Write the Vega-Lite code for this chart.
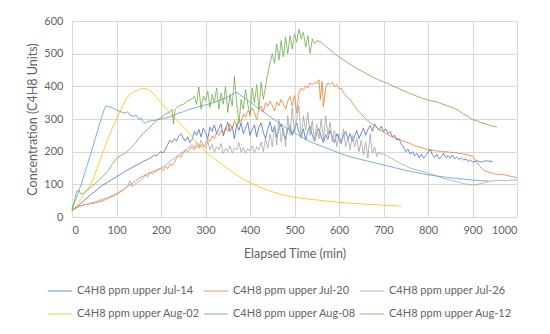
{
  "$schema": "https://vega.github.io/schema/vega-lite/v6.json",
  "autosize": "none",
  "width": 445,
  "height": 196,
  "padding": {"left": 72, "top": 21, "right": 33, "bottom": 117},
  "background": "white",
  "config": {
    "font": "Lato",
    "view": {"stroke": null},
    "axis": {"labelColor": "#636363", "titleColor": "#636363", "labelFontSize": 11, "titleFontSize": 12.5, "titleFontWeight": "normal", "gridColor": "#D9D9D9", "gridWidth": 1, "domain": false, "ticks": false},
    "legend": {"labelColor": "#636363", "labelFontSize": 11}
  },
  "data": {"values": [
{"s":"Jul-14","t":0,"v":20},{"s":"Jul-14","t":10,"v":30},{"s":"Jul-14","t":20,"v":42},{"s":"Jul-14","t":30,"v":54},{"s":"Jul-14","t":40,"v":66},{"s":"Jul-14","t":50,"v":77},{"s":"Jul-14","t":60,"v":88},{"s":"Jul-14","t":70,"v":98},{"s":"Jul-14","t":80,"v":106},{"s":"Jul-14","t":90,"v":115},{"s":"Jul-14","t":100,"v":123},{"s":"Jul-14","t":110,"v":131},{"s":"Jul-14","t":120,"v":140},{"s":"Jul-14","t":130,"v":148},{"s":"Jul-14","t":140,"v":155},{"s":"Jul-14","t":150,"v":162},{"s":"Jul-14","t":160,"v":170},{"s":"Jul-14","t":170,"v":176},{"s":"Jul-14","t":180,"v":184},{"s":"Jul-14","t":185,"v":190},{"s":"Jul-14","t":190,"v":186},{"s":"Jul-14","t":195,"v":195},{"s":"Jul-14","t":200,"v":200},{"s":"Jul-14","t":205,"v":196},{"s":"Jul-14","t":210,"v":208},{"s":"Jul-14","t":215,"v":222},{"s":"Jul-14","t":220,"v":235},{"s":"Jul-14","t":225,"v":228},{"s":"Jul-14","t":230,"v":240},{"s":"Jul-14","t":235,"v":232},{"s":"Jul-14","t":240,"v":248},{"s":"Jul-14","t":245,"v":255},{"s":"Jul-14","t":250,"v":242},{"s":"Jul-14","t":255,"v":232},{"s":"Jul-14","t":260,"v":245},{"s":"Jul-14","t":265,"v":228},{"s":"Jul-14","t":270,"v":238},{"s":"Jul-14","t":275,"v":262},{"s":"Jul-14","t":280,"v":250},{"s":"Jul-14","t":285,"v":268},{"s":"Jul-14","t":290,"v":245},{"s":"Jul-14","t":295,"v":272},{"s":"Jul-14","t":300,"v":258},{"s":"Jul-14","t":305,"v":240},{"s":"Jul-14","t":310,"v":275},{"s":"Jul-14","t":315,"v":262},{"s":"Jul-14","t":320,"v":282},{"s":"Jul-14","t":325,"v":255},{"s":"Jul-14","t":330,"v":270},{"s":"Jul-14","t":335,"v":285},{"s":"Jul-14","t":340,"v":248},{"s":"Jul-14","t":345,"v":268},{"s":"Jul-14","t":350,"v":290},{"s":"Jul-14","t":355,"v":262},{"s":"Jul-14","t":360,"v":278},{"s":"Jul-14","t":365,"v":240},{"s":"Jul-14","t":370,"v":285},{"s":"Jul-14","t":375,"v":265},{"s":"Jul-14","t":380,"v":288},{"s":"Jul-14","t":385,"v":255},{"s":"Jul-14","t":390,"v":272},{"s":"Jul-14","t":395,"v":290},{"s":"Jul-14","t":400,"v":250},{"s":"Jul-14","t":405,"v":268},{"s":"Jul-14","t":410,"v":282},{"s":"Jul-14","t":415,"v":245},{"s":"Jul-14","t":420,"v":275},{"s":"Jul-14","t":425,"v":288},{"s":"Jul-14","t":430,"v":258},{"s":"Jul-14","t":435,"v":240},{"s":"Jul-14","t":440,"v":270},{"s":"Jul-14","t":445,"v":292},{"s":"Jul-14","t":450,"v":260},{"s":"Jul-14","t":455,"v":278},{"s":"Jul-14","t":460,"v":245},{"s":"Jul-14","t":465,"v":270},{"s":"Jul-14","t":470,"v":285},{"s":"Jul-14","t":475,"v":255},{"s":"Jul-14","t":480,"v":240},{"s":"Jul-14","t":485,"v":268},{"s":"Jul-14","t":490,"v":280},{"s":"Jul-14","t":495,"v":250},{"s":"Jul-14","t":500,"v":272},{"s":"Jul-14","t":505,"v":288},{"s":"Jul-14","t":510,"v":258},{"s":"Jul-14","t":515,"v":245},{"s":"Jul-14","t":520,"v":270},{"s":"Jul-14","t":525,"v":235},{"s":"Jul-14","t":530,"v":262},{"s":"Jul-14","t":535,"v":278},{"s":"Jul-14","t":540,"v":250},{"s":"Jul-14","t":545,"v":232},{"s":"Jul-14","t":550,"v":258},{"s":"Jul-14","t":555,"v":270},{"s":"Jul-14","t":560,"v":245},{"s":"Jul-14","t":565,"v":228},{"s":"Jul-14","t":570,"v":252},{"s":"Jul-14","t":575,"v":238},{"s":"Jul-14","t":580,"v":265},{"s":"Jul-14","t":585,"v":245},{"s":"Jul-14","t":590,"v":228},{"s":"Jul-14","t":595,"v":255},{"s":"Jul-14","t":600,"v":240},{"s":"Jul-14","t":605,"v":225},{"s":"Jul-14","t":610,"v":250},{"s":"Jul-14","t":615,"v":262},{"s":"Jul-14","t":620,"v":238},{"s":"Jul-14","t":625,"v":255},{"s":"Jul-14","t":630,"v":232},{"s":"Jul-14","t":635,"v":248},{"s":"Jul-14","t":640,"v":265},{"s":"Jul-14","t":645,"v":240},{"s":"Jul-14","t":650,"v":258},{"s":"Jul-14","t":655,"v":272},{"s":"Jul-14","t":660,"v":250},{"s":"Jul-14","t":665,"v":268},{"s":"Jul-14","t":670,"v":280},{"s":"Jul-14","t":675,"v":262},{"s":"Jul-14","t":680,"v":285},{"s":"Jul-14","t":685,"v":275},{"s":"Jul-14","t":690,"v":265},{"s":"Jul-14","t":695,"v":278},{"s":"Jul-14","t":700,"v":262},{"s":"Jul-14","t":705,"v":270},{"s":"Jul-14","t":710,"v":255},{"s":"Jul-14","t":715,"v":262},{"s":"Jul-14","t":720,"v":245},{"s":"Jul-14","t":725,"v":250},{"s":"Jul-14","t":730,"v":235},{"s":"Jul-14","t":735,"v":240},{"s":"Jul-14","t":740,"v":222},{"s":"Jul-14","t":745,"v":215},{"s":"Jul-14","t":750,"v":200},{"s":"Jul-14","t":755,"v":208},{"s":"Jul-14","t":760,"v":192},{"s":"Jul-14","t":765,"v":200},{"s":"Jul-14","t":770,"v":188},{"s":"Jul-14","t":775,"v":195},{"s":"Jul-14","t":780,"v":182},{"s":"Jul-14","t":785,"v":192},{"s":"Jul-14","t":790,"v":180},{"s":"Jul-14","t":795,"v":188},{"s":"Jul-14","t":800,"v":198},{"s":"Jul-14","t":805,"v":208},{"s":"Jul-14","t":810,"v":190},{"s":"Jul-14","t":815,"v":182},{"s":"Jul-14","t":820,"v":192},{"s":"Jul-14","t":825,"v":178},{"s":"Jul-14","t":830,"v":185},{"s":"Jul-14","t":835,"v":195},{"s":"Jul-14","t":840,"v":182},{"s":"Jul-14","t":845,"v":188},{"s":"Jul-14","t":850,"v":180},{"s":"Jul-14","t":855,"v":190},{"s":"Jul-14","t":860,"v":178},{"s":"Jul-14","t":865,"v":184},{"s":"Jul-14","t":870,"v":176},{"s":"Jul-14","t":875,"v":182},{"s":"Jul-14","t":880,"v":174},{"s":"Jul-14","t":885,"v":178},{"s":"Jul-14","t":890,"v":170},{"s":"Jul-14","t":895,"v":175},{"s":"Jul-14","t":900,"v":168},{"s":"Jul-14","t":910,"v":172},{"s":"Jul-14","t":920,"v":168},{"s":"Jul-14","t":930,"v":172},{"s":"Jul-14","t":945,"v":170},
{"s":"Jul-20","t":0,"v":20},{"s":"Jul-20","t":10,"v":28},{"s":"Jul-20","t":20,"v":35},{"s":"Jul-20","t":30,"v":38},{"s":"Jul-20","t":40,"v":40},{"s":"Jul-20","t":50,"v":42},{"s":"Jul-20","t":60,"v":46},{"s":"Jul-20","t":70,"v":50},{"s":"Jul-20","t":80,"v":56},{"s":"Jul-20","t":90,"v":62},{"s":"Jul-20","t":100,"v":68},{"s":"Jul-20","t":110,"v":78},{"s":"Jul-20","t":120,"v":88},{"s":"Jul-20","t":130,"v":98},{"s":"Jul-20","t":140,"v":108},{"s":"Jul-20","t":150,"v":118},{"s":"Jul-20","t":160,"v":125},{"s":"Jul-20","t":170,"v":132},{"s":"Jul-20","t":180,"v":138},{"s":"Jul-20","t":190,"v":144},{"s":"Jul-20","t":200,"v":150},{"s":"Jul-20","t":205,"v":142},{"s":"Jul-20","t":210,"v":155},{"s":"Jul-20","t":215,"v":148},{"s":"Jul-20","t":220,"v":162},{"s":"Jul-20","t":225,"v":158},{"s":"Jul-20","t":230,"v":168},{"s":"Jul-20","t":235,"v":180},{"s":"Jul-20","t":240,"v":188},{"s":"Jul-20","t":245,"v":182},{"s":"Jul-20","t":250,"v":196},{"s":"Jul-20","t":255,"v":205},{"s":"Jul-20","t":260,"v":198},{"s":"Jul-20","t":265,"v":210},{"s":"Jul-20","t":270,"v":215},{"s":"Jul-20","t":275,"v":205},{"s":"Jul-20","t":280,"v":218},{"s":"Jul-20","t":285,"v":210},{"s":"Jul-20","t":290,"v":222},{"s":"Jul-20","t":295,"v":215},{"s":"Jul-20","t":300,"v":225},{"s":"Jul-20","t":305,"v":238},{"s":"Jul-20","t":310,"v":230},{"s":"Jul-20","t":315,"v":248},{"s":"Jul-20","t":320,"v":240},{"s":"Jul-20","t":325,"v":258},{"s":"Jul-20","t":330,"v":250},{"s":"Jul-20","t":335,"v":265},{"s":"Jul-20","t":340,"v":255},{"s":"Jul-20","t":345,"v":275},{"s":"Jul-20","t":350,"v":262},{"s":"Jul-20","t":355,"v":285},{"s":"Jul-20","t":360,"v":270},{"s":"Jul-20","t":365,"v":295},{"s":"Jul-20","t":370,"v":280},{"s":"Jul-20","t":375,"v":300},{"s":"Jul-20","t":380,"v":290},{"s":"Jul-20","t":385,"v":315},{"s":"Jul-20","t":390,"v":305},{"s":"Jul-20","t":395,"v":325},{"s":"Jul-20","t":400,"v":318},{"s":"Jul-20","t":405,"v":335},{"s":"Jul-20","t":410,"v":320},{"s":"Jul-20","t":415,"v":298},{"s":"Jul-20","t":420,"v":330},{"s":"Jul-20","t":425,"v":340},{"s":"Jul-20","t":430,"v":322},{"s":"Jul-20","t":435,"v":350},{"s":"Jul-20","t":440,"v":338},{"s":"Jul-20","t":445,"v":355},{"s":"Jul-20","t":450,"v":342},{"s":"Jul-20","t":455,"v":325},{"s":"Jul-20","t":460,"v":352},{"s":"Jul-20","t":465,"v":340},{"s":"Jul-20","t":470,"v":360},{"s":"Jul-20","t":475,"v":345},{"s":"Jul-20","t":480,"v":330},{"s":"Jul-20","t":485,"v":355},{"s":"Jul-20","t":490,"v":368},{"s":"Jul-20","t":495,"v":340},{"s":"Jul-20","t":500,"v":372},{"s":"Jul-20","t":505,"v":318},{"s":"Jul-20","t":510,"v":380},{"s":"Jul-20","t":515,"v":395},{"s":"Jul-20","t":520,"v":388},{"s":"Jul-20","t":525,"v":402},{"s":"Jul-20","t":530,"v":395},{"s":"Jul-20","t":535,"v":410},{"s":"Jul-20","t":540,"v":405},{"s":"Jul-20","t":545,"v":412},{"s":"Jul-20","t":550,"v":408},{"s":"Jul-20","t":555,"v":420},{"s":"Jul-20","t":558,"v":360},{"s":"Jul-20","t":562,"v":415},{"s":"Jul-20","t":565,"v":338},{"s":"Jul-20","t":570,"v":395},{"s":"Jul-20","t":575,"v":410},{"s":"Jul-20","t":580,"v":405},{"s":"Jul-20","t":585,"v":412},{"s":"Jul-20","t":590,"v":400},{"s":"Jul-20","t":595,"v":405},{"s":"Jul-20","t":600,"v":392},{"s":"Jul-20","t":605,"v":395},{"s":"Jul-20","t":610,"v":380},{"s":"Jul-20","t":615,"v":372},{"s":"Jul-20","t":620,"v":365},{"s":"Jul-20","t":625,"v":360},{"s":"Jul-20","t":630,"v":348},{"s":"Jul-20","t":640,"v":330},{"s":"Jul-20","t":650,"v":315},{"s":"Jul-20","t":660,"v":300},{"s":"Jul-20","t":670,"v":290},{"s":"Jul-20","t":680,"v":278},{"s":"Jul-20","t":690,"v":268},{"s":"Jul-20","t":700,"v":260},{"s":"Jul-20","t":710,"v":252},{"s":"Jul-20","t":720,"v":245},{"s":"Jul-20","t":730,"v":240},{"s":"Jul-20","t":740,"v":235},{"s":"Jul-20","t":750,"v":230},{"s":"Jul-20","t":760,"v":225},{"s":"Jul-20","t":770,"v":218},{"s":"Jul-20","t":780,"v":214},{"s":"Jul-20","t":790,"v":210},{"s":"Jul-20","t":800,"v":206},{"s":"Jul-20","t":810,"v":204},{"s":"Jul-20","t":820,"v":202},{"s":"Jul-20","t":830,"v":200},{"s":"Jul-20","t":840,"v":200},{"s":"Jul-20","t":850,"v":198},{"s":"Jul-20","t":860,"v":197},{"s":"Jul-20","t":870,"v":195},{"s":"Jul-20","t":880,"v":193},{"s":"Jul-20","t":890,"v":190},{"s":"Jul-20","t":900,"v":186},{"s":"Jul-20","t":905,"v":178},{"s":"Jul-20","t":910,"v":165},{"s":"Jul-20","t":915,"v":158},{"s":"Jul-20","t":920,"v":150},{"s":"Jul-20","t":925,"v":145},{"s":"Jul-20","t":930,"v":140},{"s":"Jul-20","t":940,"v":136},{"s":"Jul-20","t":950,"v":132},{"s":"Jul-20","t":960,"v":130},{"s":"Jul-20","t":970,"v":130},{"s":"Jul-20","t":980,"v":126},{"s":"Jul-20","t":990,"v":124},{"s":"Jul-20","t":1000,"v":120},
{"s":"Jul-26","t":0,"v":20},{"s":"Jul-26","t":10,"v":28},{"s":"Jul-26","t":20,"v":34},{"s":"Jul-26","t":30,"v":38},{"s":"Jul-26","t":40,"v":42},{"s":"Jul-26","t":50,"v":46},{"s":"Jul-26","t":60,"v":50},{"s":"Jul-26","t":70,"v":55},{"s":"Jul-26","t":80,"v":60},{"s":"Jul-26","t":90,"v":66},{"s":"Jul-26","t":100,"v":72},{"s":"Jul-26","t":110,"v":80},{"s":"Jul-26","t":120,"v":88},{"s":"Jul-26","t":125,"v":95},{"s":"Jul-26","t":130,"v":112},{"s":"Jul-26","t":135,"v":92},{"s":"Jul-26","t":140,"v":100},{"s":"Jul-26","t":150,"v":108},{"s":"Jul-26","t":160,"v":118},{"s":"Jul-26","t":165,"v":130},{"s":"Jul-26","t":170,"v":122},{"s":"Jul-26","t":175,"v":138},{"s":"Jul-26","t":180,"v":132},{"s":"Jul-26","t":190,"v":140},{"s":"Jul-26","t":200,"v":150},{"s":"Jul-26","t":210,"v":158},{"s":"Jul-26","t":220,"v":170},{"s":"Jul-26","t":230,"v":180},{"s":"Jul-26","t":240,"v":190},{"s":"Jul-26","t":250,"v":200},{"s":"Jul-26","t":260,"v":210},{"s":"Jul-26","t":270,"v":222},{"s":"Jul-26","t":275,"v":212},{"s":"Jul-26","t":280,"v":228},{"s":"Jul-26","t":285,"v":215},{"s":"Jul-26","t":290,"v":235},{"s":"Jul-26","t":295,"v":220},{"s":"Jul-26","t":300,"v":210},{"s":"Jul-26","t":305,"v":232},{"s":"Jul-26","t":310,"v":205},{"s":"Jul-26","t":315,"v":222},{"s":"Jul-26","t":320,"v":198},{"s":"Jul-26","t":325,"v":215},{"s":"Jul-26","t":330,"v":205},{"s":"Jul-26","t":335,"v":225},{"s":"Jul-26","t":340,"v":195},{"s":"Jul-26","t":345,"v":210},{"s":"Jul-26","t":350,"v":200},{"s":"Jul-26","t":355,"v":218},{"s":"Jul-26","t":360,"v":195},{"s":"Jul-26","t":365,"v":212},{"s":"Jul-26","t":370,"v":205},{"s":"Jul-26","t":375,"v":228},{"s":"Jul-26","t":380,"v":198},{"s":"Jul-26","t":385,"v":212},{"s":"Jul-26","t":390,"v":195},{"s":"Jul-26","t":395,"v":210},{"s":"Jul-26","t":400,"v":202},{"s":"Jul-26","t":405,"v":218},{"s":"Jul-26","t":410,"v":196},{"s":"Jul-26","t":415,"v":215},{"s":"Jul-26","t":420,"v":205},{"s":"Jul-26","t":425,"v":230},{"s":"Jul-26","t":430,"v":200},{"s":"Jul-26","t":435,"v":240},{"s":"Jul-26","t":440,"v":210},{"s":"Jul-26","t":445,"v":255},{"s":"Jul-26","t":450,"v":215},{"s":"Jul-26","t":455,"v":280},{"s":"Jul-26","t":460,"v":220},{"s":"Jul-26","t":465,"v":300},{"s":"Jul-26","t":470,"v":230},{"s":"Jul-26","t":475,"v":270},{"s":"Jul-26","t":480,"v":215},{"s":"Jul-26","t":485,"v":310},{"s":"Jul-26","t":490,"v":250},{"s":"Jul-26","t":495,"v":335},{"s":"Jul-26","t":500,"v":260},{"s":"Jul-26","t":505,"v":300},{"s":"Jul-26","t":510,"v":340},{"s":"Jul-26","t":515,"v":240},{"s":"Jul-26","t":520,"v":310},{"s":"Jul-26","t":525,"v":265},{"s":"Jul-26","t":530,"v":320},{"s":"Jul-26","t":535,"v":250},{"s":"Jul-26","t":540,"v":295},{"s":"Jul-26","t":545,"v":230},{"s":"Jul-26","t":550,"v":285},{"s":"Jul-26","t":555,"v":240},{"s":"Jul-26","t":560,"v":300},{"s":"Jul-26","t":565,"v":235},{"s":"Jul-26","t":570,"v":310},{"s":"Jul-26","t":575,"v":250},{"s":"Jul-26","t":580,"v":290},{"s":"Jul-26","t":585,"v":230},{"s":"Jul-26","t":590,"v":265},{"s":"Jul-26","t":595,"v":215},{"s":"Jul-26","t":600,"v":255},{"s":"Jul-26","t":605,"v":225},{"s":"Jul-26","t":610,"v":270},{"s":"Jul-26","t":615,"v":215},{"s":"Jul-26","t":620,"v":245},{"s":"Jul-26","t":625,"v":205},{"s":"Jul-26","t":630,"v":250},{"s":"Jul-26","t":635,"v":215},{"s":"Jul-26","t":640,"v":240},{"s":"Jul-26","t":645,"v":200},{"s":"Jul-26","t":650,"v":235},{"s":"Jul-26","t":655,"v":190},{"s":"Jul-26","t":660,"v":230},{"s":"Jul-26","t":665,"v":180},{"s":"Jul-26","t":670,"v":255},{"s":"Jul-26","t":675,"v":195},{"s":"Jul-26","t":680,"v":215},{"s":"Jul-26","t":685,"v":185},{"s":"Jul-26","t":690,"v":200},{"s":"Jul-26","t":695,"v":190},{"s":"Jul-26","t":700,"v":195},{"s":"Jul-26","t":710,"v":185},{"s":"Jul-26","t":720,"v":178},{"s":"Jul-26","t":730,"v":170},{"s":"Jul-26","t":740,"v":162},{"s":"Jul-26","t":750,"v":156},{"s":"Jul-26","t":760,"v":150},{"s":"Jul-26","t":770,"v":146},{"s":"Jul-26","t":780,"v":142},{"s":"Jul-26","t":790,"v":138},{"s":"Jul-26","t":800,"v":134},{"s":"Jul-26","t":810,"v":130},{"s":"Jul-26","t":820,"v":126},{"s":"Jul-26","t":830,"v":120},{"s":"Jul-26","t":840,"v":116},{"s":"Jul-26","t":850,"v":113},{"s":"Jul-26","t":860,"v":110},{"s":"Jul-26","t":870,"v":106},{"s":"Jul-26","t":880,"v":102},{"s":"Jul-26","t":890,"v":100},{"s":"Jul-26","t":900,"v":98},{"s":"Jul-26","t":910,"v":99},{"s":"Jul-26","t":920,"v":103},{"s":"Jul-26","t":930,"v":107},{"s":"Jul-26","t":940,"v":110},{"s":"Jul-26","t":950,"v":111},{"s":"Jul-26","t":960,"v":112},{"s":"Jul-26","t":970,"v":112},{"s":"Jul-26","t":980,"v":112},{"s":"Jul-26","t":990,"v":113},{"s":"Jul-26","t":1000,"v":113},
{"s":"Aug-02","t":0,"v":20},{"s":"Aug-02","t":10,"v":35},{"s":"Aug-02","t":20,"v":55},{"s":"Aug-02","t":30,"v":75},{"s":"Aug-02","t":40,"v":95},{"s":"Aug-02","t":50,"v":125},{"s":"Aug-02","t":60,"v":162},{"s":"Aug-02","t":70,"v":200},{"s":"Aug-02","t":80,"v":236},{"s":"Aug-02","t":90,"v":270},{"s":"Aug-02","t":100,"v":300},{"s":"Aug-02","t":110,"v":330},{"s":"Aug-02","t":120,"v":358},{"s":"Aug-02","t":130,"v":376},{"s":"Aug-02","t":140,"v":384},{"s":"Aug-02","t":150,"v":390},{"s":"Aug-02","t":160,"v":394},{"s":"Aug-02","t":170,"v":392},{"s":"Aug-02","t":180,"v":382},{"s":"Aug-02","t":190,"v":366},{"s":"Aug-02","t":200,"v":350},{"s":"Aug-02","t":210,"v":334},{"s":"Aug-02","t":220,"v":318},{"s":"Aug-02","t":240,"v":290},{"s":"Aug-02","t":260,"v":262},{"s":"Aug-02","t":280,"v":228},{"s":"Aug-02","t":300,"v":200},{"s":"Aug-02","t":320,"v":178},{"s":"Aug-02","t":340,"v":158},{"s":"Aug-02","t":360,"v":138},{"s":"Aug-02","t":380,"v":120},{"s":"Aug-02","t":400,"v":105},{"s":"Aug-02","t":420,"v":92},{"s":"Aug-02","t":440,"v":82},{"s":"Aug-02","t":460,"v":73},{"s":"Aug-02","t":480,"v":66},{"s":"Aug-02","t":500,"v":60},{"s":"Aug-02","t":550,"v":52},{"s":"Aug-02","t":600,"v":45},{"s":"Aug-02","t":650,"v":40},{"s":"Aug-02","t":700,"v":36},{"s":"Aug-02","t":740,"v":33},
{"s":"Aug-08","t":0,"v":25},{"s":"Aug-08","t":10,"v":60},{"s":"Aug-08","t":20,"v":97},{"s":"Aug-08","t":30,"v":140},{"s":"Aug-08","t":40,"v":185},{"s":"Aug-08","t":50,"v":230},{"s":"Aug-08","t":60,"v":275},{"s":"Aug-08","t":70,"v":320},{"s":"Aug-08","t":75,"v":339},{"s":"Aug-08","t":80,"v":338},{"s":"Aug-08","t":90,"v":335},{"s":"Aug-08","t":100,"v":328},{"s":"Aug-08","t":110,"v":322},{"s":"Aug-08","t":120,"v":318},{"s":"Aug-08","t":125,"v":322},{"s":"Aug-08","t":130,"v":312},{"s":"Aug-08","t":140,"v":308},{"s":"Aug-08","t":145,"v":312},{"s":"Aug-08","t":150,"v":298},{"s":"Aug-08","t":155,"v":303},{"s":"Aug-08","t":160,"v":292},{"s":"Aug-08","t":165,"v":287},{"s":"Aug-08","t":170,"v":292},{"s":"Aug-08","t":180,"v":295},{"s":"Aug-08","t":190,"v":297},{"s":"Aug-08","t":200,"v":300},{"s":"Aug-08","t":210,"v":303},{"s":"Aug-08","t":220,"v":306},{"s":"Aug-08","t":230,"v":312},{"s":"Aug-08","t":240,"v":318},{"s":"Aug-08","t":250,"v":322},{"s":"Aug-08","t":260,"v":328},{"s":"Aug-08","t":270,"v":332},{"s":"Aug-08","t":280,"v":336},{"s":"Aug-08","t":290,"v":340},{"s":"Aug-08","t":300,"v":343},{"s":"Aug-08","t":310,"v":347},{"s":"Aug-08","t":320,"v":351},{"s":"Aug-08","t":330,"v":356},{"s":"Aug-08","t":340,"v":362},{"s":"Aug-08","t":350,"v":368},{"s":"Aug-08","t":360,"v":375},{"s":"Aug-08","t":370,"v":382},{"s":"Aug-08","t":380,"v":372},{"s":"Aug-08","t":390,"v":362},{"s":"Aug-08","t":400,"v":352},{"s":"Aug-08","t":420,"v":332},{"s":"Aug-08","t":440,"v":312},{"s":"Aug-08","t":460,"v":293},{"s":"Aug-08","t":480,"v":274},{"s":"Aug-08","t":500,"v":257},{"s":"Aug-08","t":520,"v":242},{"s":"Aug-08","t":540,"v":228},{"s":"Aug-08","t":560,"v":217},{"s":"Aug-08","t":580,"v":207},{"s":"Aug-08","t":600,"v":196},{"s":"Aug-08","t":625,"v":184},{"s":"Aug-08","t":650,"v":176},{"s":"Aug-08","t":700,"v":159},{"s":"Aug-08","t":750,"v":143},{"s":"Aug-08","t":800,"v":129},{"s":"Aug-08","t":850,"v":120},{"s":"Aug-08","t":900,"v":113},{"s":"Aug-08","t":935,"v":110},
{"s":"Aug-12","t":0,"v":20},{"s":"Aug-12","t":5,"v":45},{"s":"Aug-12","t":10,"v":78},{"s":"Aug-12","t":15,"v":82},{"s":"Aug-12","t":20,"v":70},{"s":"Aug-12","t":25,"v":72},{"s":"Aug-12","t":30,"v":78},{"s":"Aug-12","t":40,"v":88},{"s":"Aug-12","t":50,"v":100},{"s":"Aug-12","t":60,"v":112},{"s":"Aug-12","t":70,"v":125},{"s":"Aug-12","t":80,"v":140},{"s":"Aug-12","t":90,"v":160},{"s":"Aug-12","t":100,"v":180},{"s":"Aug-12","t":110,"v":188},{"s":"Aug-12","t":120,"v":196},{"s":"Aug-12","t":130,"v":208},{"s":"Aug-12","t":140,"v":222},{"s":"Aug-12","t":150,"v":240},{"s":"Aug-12","t":160,"v":256},{"s":"Aug-12","t":170,"v":268},{"s":"Aug-12","t":180,"v":282},{"s":"Aug-12","t":190,"v":295},{"s":"Aug-12","t":200,"v":305},{"s":"Aug-12","t":210,"v":315},{"s":"Aug-12","t":220,"v":322},{"s":"Aug-12","t":225,"v":330},{"s":"Aug-12","t":228,"v":285},{"s":"Aug-12","t":232,"v":330},{"s":"Aug-12","t":240,"v":340},{"s":"Aug-12","t":250,"v":345},{"s":"Aug-12","t":260,"v":355},{"s":"Aug-12","t":270,"v":362},{"s":"Aug-12","t":275,"v":370},{"s":"Aug-12","t":280,"v":345},{"s":"Aug-12","t":285,"v":398},{"s":"Aug-12","t":290,"v":330},{"s":"Aug-12","t":295,"v":370},{"s":"Aug-12","t":300,"v":355},{"s":"Aug-12","t":305,"v":385},{"s":"Aug-12","t":310,"v":335},{"s":"Aug-12","t":315,"v":375},{"s":"Aug-12","t":320,"v":350},{"s":"Aug-12","t":325,"v":395},{"s":"Aug-12","t":330,"v":330},{"s":"Aug-12","t":335,"v":380},{"s":"Aug-12","t":340,"v":345},{"s":"Aug-12","t":345,"v":400},{"s":"Aug-12","t":350,"v":320},{"s":"Aug-12","t":355,"v":375},{"s":"Aug-12","t":360,"v":340},{"s":"Aug-12","t":365,"v":430},{"s":"Aug-12","t":370,"v":350},{"s":"Aug-12","t":375,"v":285},{"s":"Aug-12","t":380,"v":360},{"s":"Aug-12","t":385,"v":330},{"s":"Aug-12","t":390,"v":390},{"s":"Aug-12","t":395,"v":345},{"s":"Aug-12","t":400,"v":310},{"s":"Aug-12","t":405,"v":395},{"s":"Aug-12","t":410,"v":350},{"s":"Aug-12","t":415,"v":405},{"s":"Aug-12","t":420,"v":330},{"s":"Aug-12","t":425,"v":412},{"s":"Aug-12","t":430,"v":360},{"s":"Aug-12","t":435,"v":400},{"s":"Aug-12","t":440,"v":440},{"s":"Aug-12","t":445,"v":470},{"s":"Aug-12","t":450,"v":500},{"s":"Aug-12","t":455,"v":470},{"s":"Aug-12","t":460,"v":530},{"s":"Aug-12","t":465,"v":480},{"s":"Aug-12","t":470,"v":540},{"s":"Aug-12","t":475,"v":490},{"s":"Aug-12","t":480,"v":550},{"s":"Aug-12","t":485,"v":500},{"s":"Aug-12","t":490,"v":555},{"s":"Aug-12","t":495,"v":515},{"s":"Aug-12","t":500,"v":560},{"s":"Aug-12","t":505,"v":535},{"s":"Aug-12","t":510,"v":575},{"s":"Aug-12","t":515,"v":545},{"s":"Aug-12","t":520,"v":565},{"s":"Aug-12","t":525,"v":520},{"s":"Aug-12","t":530,"v":555},{"s":"Aug-12","t":535,"v":500},{"s":"Aug-12","t":540,"v":545},{"s":"Aug-12","t":545,"v":530},{"s":"Aug-12","t":550,"v":540},{"s":"Aug-12","t":560,"v":535},{"s":"Aug-12","t":570,"v":522},{"s":"Aug-12","t":580,"v":512},{"s":"Aug-12","t":590,"v":500},{"s":"Aug-12","t":600,"v":490},{"s":"Aug-12","t":620,"v":472},{"s":"Aug-12","t":640,"v":455},{"s":"Aug-12","t":660,"v":440},{"s":"Aug-12","t":680,"v":425},{"s":"Aug-12","t":700,"v":414},{"s":"Aug-12","t":720,"v":402},{"s":"Aug-12","t":740,"v":390},{"s":"Aug-12","t":760,"v":378},{"s":"Aug-12","t":780,"v":367},{"s":"Aug-12","t":800,"v":358},{"s":"Aug-12","t":820,"v":352},{"s":"Aug-12","t":840,"v":342},{"s":"Aug-12","t":860,"v":332},{"s":"Aug-12","t":870,"v":325},{"s":"Aug-12","t":880,"v":315},{"s":"Aug-12","t":890,"v":308},{"s":"Aug-12","t":900,"v":298},{"s":"Aug-12","t":910,"v":295},{"s":"Aug-12","t":920,"v":288},{"s":"Aug-12","t":930,"v":285},{"s":"Aug-12","t":940,"v":280},{"s":"Aug-12","t":955,"v":275}
  ]},
  "mark": {"type": "line", "strokeWidth": 1, "opacity": 0.8},
  "encoding": {
    "x": {"field": "t", "type": "quantitative", "scale": {"domain": [0, 1000], "nice": false}, "axis": {"values": [0,100,200,300,400,500,600,700,800,900,1000], "format": "d", "title": "Elapsed Time (min)", "labelPadding": 7, "titlePadding": 12}},
    "y": {"field": "v", "type": "quantitative", "scale": {"domain": [0, 600], "nice": false}, "axis": {"values": [0,100,200,300,400,500,600], "title": "Concentration (C4H8 Units)", "labelPadding": 9, "titleX": -33}},
    "color": {"field": "s", "type": "nominal", "scale": {"domain": ["Jul-14","Jul-20","Jul-26","Aug-02","Aug-08","Aug-12"], "range": ["#4472C4","#ED7D31","#A5A5A5","#FFC000","#5B9BD5","#70AD47"]},
      "legend": {"title": null, "orient": "none", "legendX": -25, "legendY": 257, "direction": "horizontal", "columns": 3, "symbolType": "stroke", "symbolSize": 600, "symbolStrokeWidth": 1, "symbolOpacity": 0.8, "labelOffset": 4, "columnPadding": -8, "rowPadding": 5, "gridAlign": "all",
        "labelExpr": "datum.label == 'Aug-08' ? 'C4H8 ppm upper  Aug-08' : 'C4H8 ppm upper ' + datum.label"}},
    "order": {"field": "t", "type": "quantitative"}
  }
}
